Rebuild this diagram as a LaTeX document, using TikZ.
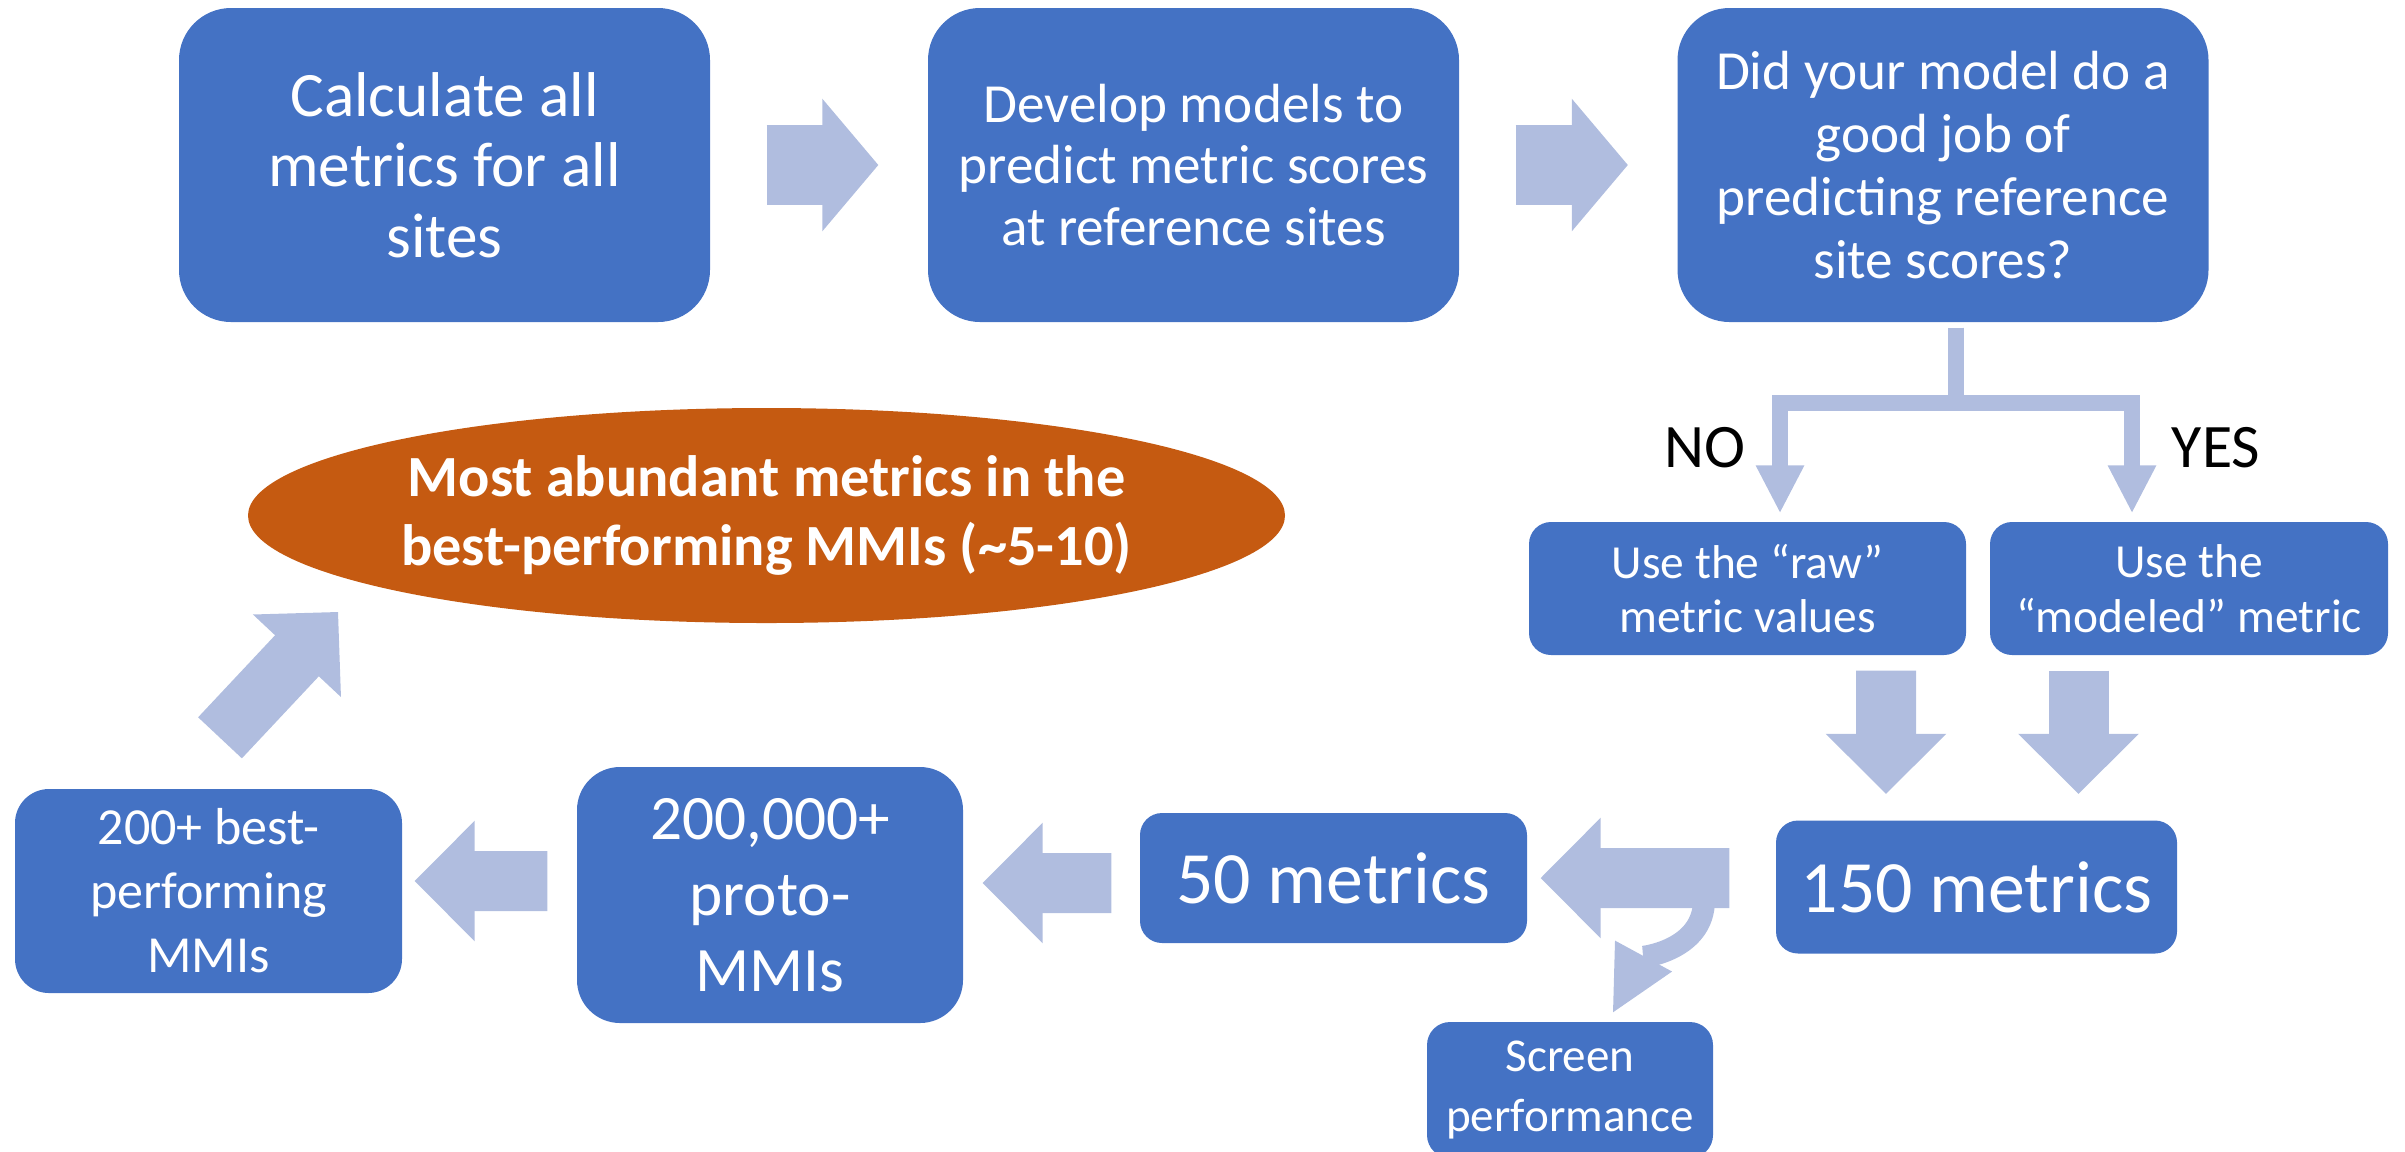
\documentclass[tikz,border=0pt]{standalone}
\usepackage{fontspec}
\setmainfont{Carlito}
\usetikzlibrary{arrows.meta,shapes.geometric}

\definecolor{boxblue}{RGB}{68,114,196}
\definecolor{arrowblue}{RGB}{176,189,223}
\definecolor{rustorange}{RGB}{197,90,17}

\tikzset{
  box/.style={fill=boxblue, text=white, align=center, inner sep=0pt, rounded corners=#1},
  toparrow/.style={draw=arrowblue, line width=0.8cm,
    -{Triangle[width=1.32cm 0, length=0.56cm 0 0, line width=1pt 0 0]}},
  flowarrow/.style={draw=arrowblue, line width=0.6cm,
    -{Triangle[width=1.2cm 0, length=0.6cm 0 0, line width=1pt 0 0]}},
  splitarrow/.style={draw=arrowblue, line width=0.16cm,
    -{Triangle[width=0.48cm 0, length=0.47cm 0 0, line width=1pt 0 0]}},
  brancharrow/.style={draw=arrowblue, line width=0.22cm,
    -{Triangle[width=0.64cm 0, length=0.64cm 0 0, line width=1pt 0 0]}},
}

\begin{document}
\begin{tikzpicture}
    \useasboundingbox (0,0) rectangle (24.05,-11.51);

    % top row
    \node[box=5.2mm, minimum width=5.31cm, minimum height=3.14cm,
          font=\fontsize{18}{20}\selectfont] (calc) at (4.445,-1.65)
       {Calculate all\\metrics for all\\sites};
    \node[box=5.2mm, minimum width=5.31cm, minimum height=3.14cm,
          font=\fontsize{15.7}{17.6}\selectfont] (develop) at (11.935,-1.65)
       {Develop models to\\predict metric scores\\at reference sites};
    \node[box=5.2mm, minimum width=5.31cm, minimum height=3.14cm,
          font=\fontsize{15.7}{17.9}\selectfont] (check) at (19.43,-1.65)
       {Did your model do a\\good job of\\predicting reference\\site scores?};

    % decision
    \node[box=2.2mm, minimum width=4.37cm, minimum height=1.33cm,
          font=\fontsize{13.5}{15.6}\selectfont] (raw) at (17.475,-5.885)
       {Use the “raw”\\metric values};
    \node[box=2.2mm, minimum width=3.98cm, minimum height=1.33cm,
          font=\fontsize{13.5}{15.6}\selectfont] (modeled) at (21.89,-5.885)
       {Use the\\“modeled” metric};
    \node[font=\fontsize{17.6}{20}\selectfont] (no) at (17.05,-4.48) {NO};
    \node[font=\fontsize{17.6}{20}\selectfont] (yes) at (22.16,-4.48) {YES};

    % bottom row
    \node[box=2.2mm, minimum width=4.01cm, minimum height=1.33cm,
          font=\fontsize{21}{24}\selectfont] (m150) at (19.765,-8.87)
       {150 metrics};
    \node[box=2.2mm, minimum width=3.87cm, minimum height=1.30cm,
          font=\fontsize{21}{24}\selectfont] (m50) at (13.335,-8.78)
       {50 metrics};
    \node[box=2.3mm, minimum width=2.86cm, minimum height=1.36cm,
          font=\fontsize{13.4}{16.8}\selectfont] (screen) at (15.70,-10.90)
       {Screen\\performance};
    \node[box=4.3mm, minimum width=3.86cm, minimum height=2.56cm,
          font=\fontsize{18}{21.6}\selectfont] (proto) at (7.70,-8.95)
       {200,000+\\proto-\\MMIs};
    \node[box=3.4mm, minimum width=3.87cm, minimum height=2.04cm,
          font=\fontsize{14.8}{18.2}\selectfont] (best) at (2.085,-8.91)
       {200+ best-\\performing\\MMIs};

    \node[ellipse, fill=rustorange, text=white, align=center, inner sep=0pt,
          minimum width=10.37cm, minimum height=2.15cm,
          font=\bfseries\fontsize{16.6}{19.8}\selectfont] (mostab) at (7.665,-5.155)
       {Most abundant metrics in the\\best-performing MMIs (\textasciitilde5-10)};

    \coordinate (branch) at (17.04,-9.0);
    \coordinate (diagtip) at (3.38,-6.12);

    %Arrows
    \draw[toparrow] ([xshift=5.6mm]calc.east) -- ([xshift=-4.9mm]develop.west);
    \draw[toparrow] ([xshift=5.6mm]develop.east) -- ([xshift=-4.9mm]check.west);

    \draw[splitarrow] ([xshift=1.3mm,yshift=-0.5mm]check.south) -- ++(0,-0.75)
       -| ([xshift=3.25mm,yshift=0.9mm]raw.north);
    \draw[splitarrow] ([xshift=1.3mm,yshift=-0.5mm]check.south) -- ++(0,-0.75)
       -| ([xshift=-5.7mm,yshift=0.9mm]modeled.north);

    \draw[flowarrow] ([xshift=13.85mm,yshift=-1.5mm]raw.south)
       -- ([xshift=-9.05mm,yshift=2.6mm]m150.north);
    \draw[flowarrow] ([xshift=-11.05mm,yshift=-1.5mm]modeled.south)
       -- ([xshift=10.2mm,yshift=2.6mm]m150.north);

    \draw[brancharrow] (branch) .. controls (17.04,-9.5) and (16.43,-9.57)
       .. ([xshift=4.3mm,yshift=0.9mm]screen.north);
    \draw[flowarrow] ([xshift=-4.6mm,yshift=0.9mm]m150.west)
       -- ([xshift=1.3mm]m50.east);

    \draw[flowarrow] ([xshift=-2.8mm,yshift=-0.5mm]m50.west)
       -- ([xshift=1.9mm,yshift=1.2mm]proto.east);
    \draw[flowarrow] ([xshift=-2.9mm,yshift=1.4mm]proto.west)
       -- ([xshift=1.2mm,yshift=1.0mm]best.east);

    \draw[flowarrow] ([xshift=1.15mm,yshift=5.05mm]best.north) -- (diagtip);
\end{tikzpicture}
\end{document}
